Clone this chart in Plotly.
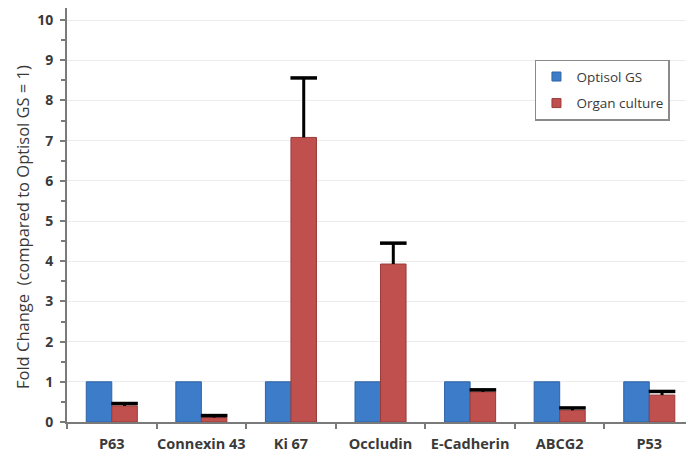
import plotly.graph_objects as go

categories = ["P63", "Connexin 43", "Ki 67", "Occludin", "E-Cadherin", "ABCG2", "P53"]
optisol = [1, 1, 1, 1, 1, 1, 1]
organ = [0.40, 0.11, 7.08, 3.93, 0.75, 0.29, 0.67]
organ_err = [0.06, 0.05, 1.48, 0.52, 0.05, 0.06, 0.09]

BARGAP = 0.43
idx = list(range(len(categories)))
half_bar = (1 - BARGAP) / 4  # offset of each bar centre from the category centre

BLUE, BLUE_EDGE = "#3d7cc9", "#2f63a3"
RED, RED_EDGE = "#c0504d", "#9a3b39"

fig = go.Figure()
fig.add_trace(go.Bar(
    x=idx, y=optisol, name="Optisol GS", showlegend=False,
    marker=dict(color=BLUE, line=dict(color=BLUE_EDGE, width=1)),
))
fig.add_trace(go.Bar(
    x=idx, y=organ, name="Organ culture", showlegend=False,
    marker=dict(color=RED, line=dict(color=RED_EDGE, width=1)),
    error_y=dict(type="data", array=organ_err, arrayminus=[0] * len(organ_err),
                 symmetric=False, color="black", thickness=3, width=0),
))
# caps of the (upper-only) error bars
fig.add_trace(go.Scatter(
    x=[i + half_bar for i in idx], y=[v + e for v, e in zip(organ, organ_err)],
    mode="markers", showlegend=False, hoverinfo="skip",
    marker=dict(symbol="line-ew", size=19, line=dict(color="black", width=3.5)),
))
# legend entries with small square swatches
fig.add_trace(go.Scatter(x=[None], y=[None], mode="markers", name="Optisol GS",
                         legendgroup="a",
                         marker=dict(symbol="square", size=9, color=BLUE,
                                     line=dict(color=BLUE_EDGE, width=1))))
fig.add_trace(go.Scatter(x=[None], y=[None], mode="markers", name="Organ culture",
                         legendgroup="b",
                         marker=dict(symbol="square", size=9, color=RED,
                                     line=dict(color=RED_EDGE, width=1))))

font_family = "Open Sans, Noto Sans, Arial"
TXT = "#3a3a3a"
AX = "#7a7a7a"
fig.update_layout(
    width=686, height=452,
    margin=dict(l=67, r=0, t=8, b=30),
    paper_bgcolor="white", plot_bgcolor="white",
    barmode="group", bargap=BARGAP, bargroupgap=0,
    font=dict(family=font_family, color=TXT),
    showlegend=True,
    legend=dict(
        x=0.756, y=0.875, xanchor="left", yanchor="top",
        bordercolor="#8a8a8a", borderwidth=1.5, bgcolor="white",
        font=dict(size=13.5, color=TXT),
        traceorder="grouped", tracegroupgap=6,
        itemwidth=30,
    ),
    xaxis=dict(
        range=[-0.5, 6.41], automargin=False,
        tickvals=idx, ticktext=[f"<b>{c}</b>" for c in categories],
        ticks="", ticklabelstandoff=8,
        minor=dict(tick0=0.5, dtick=1, ticks="outside", ticklen=5,
                   tickcolor=AX, tickwidth=2, showgrid=False),
        showline=True, linecolor=AX, linewidth=2,
        tickfont=dict(size=14.5, color=TXT, family=font_family),
        showgrid=False, zeroline=False,
    ),
    yaxis=dict(
        range=[0, 10.3], automargin=False,
        tickvals=list(range(0, 11)),
        ticktext=[f"<b>{v}</b>" for v in range(0, 11)],
        showline=True, linecolor=AX, linewidth=2,
        ticks="outside", ticklen=5, tickcolor=AX, tickwidth=2,
        ticklabelstandoff=4,
        minor=dict(dtick=0.5, ticks="outside", ticklen=4, tickcolor=AX,
                   tickwidth=1.5, showgrid=False),
        showgrid=True, gridcolor="#ececec", gridwidth=1,
        zeroline=False,
        tickfont=dict(size=14, color=TXT, family=font_family),
    ),
    annotations=[dict(
        text="Fold Change  (compared to Optisol GS = 1)",
        xref="paper", yref="paper", x=(22 - 67) / 619, y=(422 - 227) / 414,
        xanchor="center", yanchor="middle", textangle=-90, showarrow=False,
        font=dict(size=16.5, color=TXT, family=font_family),
    )],
)
fig.write_html(
    "out.html",
    config={"displayModeBar": False},
    post_script="document.body.style.margin='0';document.body.style.overflow='hidden';",
)
